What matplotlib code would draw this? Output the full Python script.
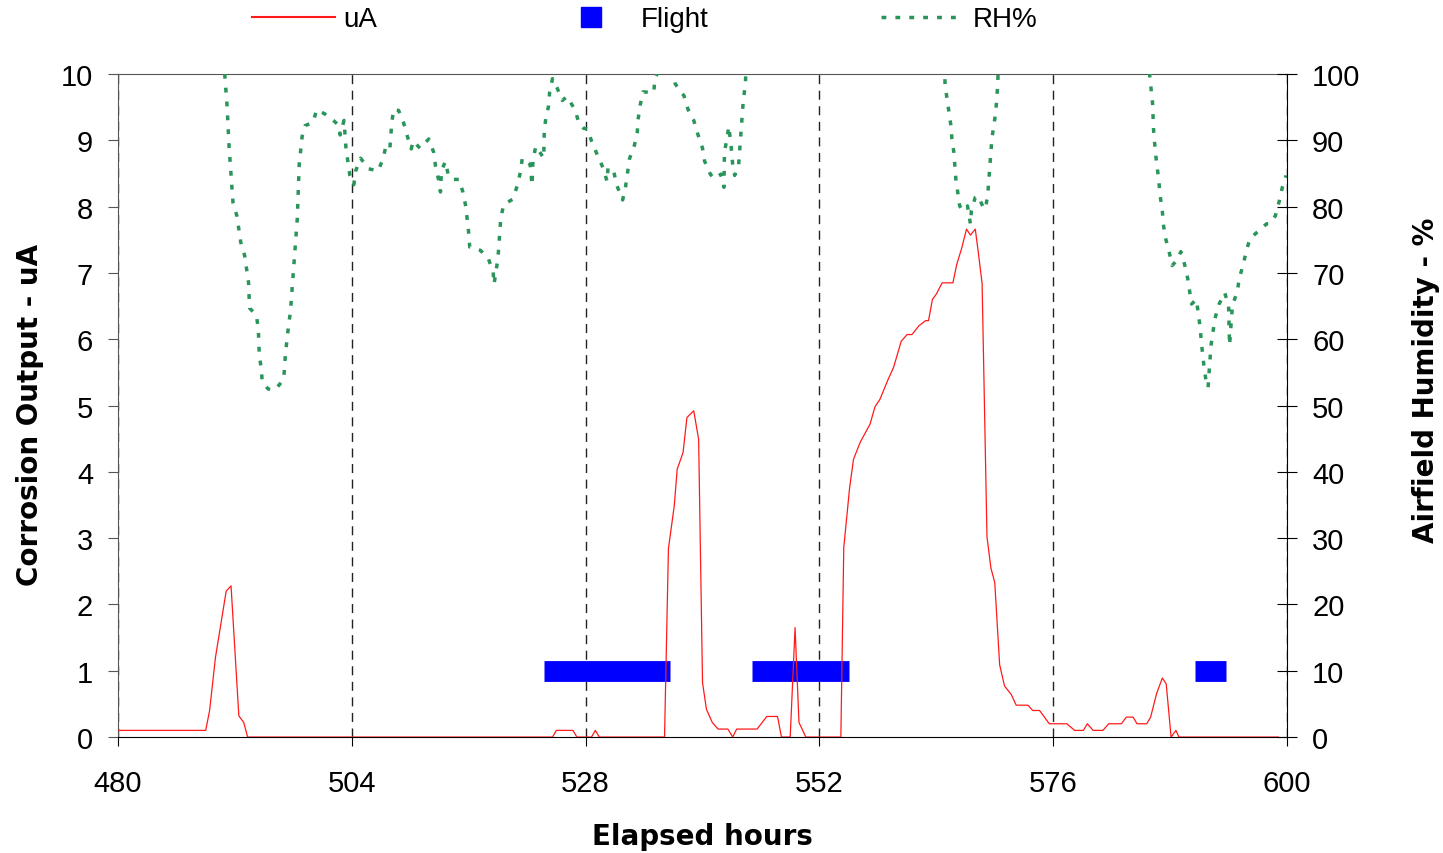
import matplotlib.pyplot as plt
from matplotlib.lines import Line2D

# corrosion sensor output (uA) vs elapsed hours
ua_hours = [480.0, 489.0, 489.4, 490.0, 491.1, 491.6, 492.4, 492.9, 493.3,
            524.6, 525.0, 526.7, 527.1, 528.6, 529.0, 529.4,
            536.1, 536.5, 537.1, 537.4, 538.0, 538.4, 539.1, 539.6, 540.0, 540.4,
            541.0, 541.6, 542.6, 543.1, 543.5, 545.6, 546.6, 547.7, 548.1, 549.0,
            549.5, 549.9, 550.6,
            554.2, 554.5, 555.1, 555.5, 556.2, 557.2, 557.7, 558.2, 559.1, 559.6,
            560.4, 561.0, 561.5, 562.2, 562.9, 563.2, 563.6, 564.0, 564.6, 565.7,
            566.1, 566.6, 567.1, 567.5, 568.0, 568.3, 568.7, 569.2, 569.6, 570.0,
            570.5, 571.0, 571.7, 572.2, 573.4, 573.9, 574.6, 575.6,
            577.4, 578.2, 579.1, 579.5, 580.1, 581.1, 581.7, 583.0, 583.5, 584.2,
            584.6, 585.6, 586.0, 586.6, 587.2, 587.6, 588.1, 588.6, 588.9, 599.1]
ua = [0.1, 0.1, 0.4, 1.2, 2.2, 2.28, 0.32, 0.22, 0.0,
      0.0, 0.1, 0.1, 0.0, 0.0, 0.1, 0.0,
      0.0, 2.84, 3.49, 4.04, 4.29, 4.82, 4.92, 4.49, 0.82, 0.42,
      0.22, 0.12, 0.12, 0.0, 0.12, 0.12, 0.31, 0.31, 0.0, 0.0,
      1.65, 0.22, 0.0,
      0.0, 2.86, 3.76, 4.19, 4.45, 4.72, 4.98, 5.09, 5.41, 5.57,
      5.97, 6.07, 6.07, 6.20, 6.28, 6.28, 6.60, 6.68, 6.85, 6.85,
      7.13, 7.37, 7.66, 7.57, 7.66, 7.32, 6.84, 3.02, 2.55, 2.33,
      1.09, 0.77, 0.64, 0.48, 0.48, 0.40, 0.40, 0.20,
      0.20, 0.10, 0.10, 0.20, 0.10, 0.10, 0.20, 0.20, 0.30, 0.30,
      0.20, 0.20, 0.30, 0.65, 0.89, 0.80, 0.0, 0.1, 0.0, 0.0]

# flight periods (plotted at level 1 on the uA axis)
flight_start = [523.7, 545.1, 590.6]
flight_end = [536.7, 555.0, 593.7]
flight_level = 1

# airfield relative humidity (%), values above 100 run off the chart
rh_hours = [480.0, 490.8, 491.0, 491.2, 491.4, 491.5, 491.6, 491.7, 491.8, 492.2,
            492.4, 492.6, 493.0, 493.2, 493.4, 493.5, 494.2, 494.4, 494.5, 494.7,
            494.8, 495.4, 495.9, 496.3, 497.0, 497.2, 497.5, 497.7, 497.8, 497.9,
            498.1, 498.3, 498.4, 498.6, 498.9, 499.2, 500.0, 500.4, 501.2, 502.1,
            502.7, 502.8, 503.2, 503.4, 503.6, 503.8, 504.2, 504.4, 504.9, 505.7,
            506.7, 507.2, 507.5, 507.9, 508.1, 508.3, 508.8, 509.3, 509.7, 510.1,
            510.3, 511.0, 511.9, 512.4, 512.6, 512.9, 513.1, 513.2, 513.6, 513.9,
            514.3, 515.0, 515.4, 515.7, 516.0, 516.1, 517.2, 518.0, 518.5, 518.6,
            519.0, 519.1, 519.2, 519.3, 519.6, 520.5, 521.0, 521.3, 521.5, 522.3,
            522.5, 522.6, 522.9, 523.7, 523.75, 523.9, 524.2, 524.3, 524.6, 525.1,
            525.6, 526.1, 526.9, 527.3, 527.8, 528.2, 528.6, 529.2, 529.8, 530.2,
            530.3, 530.9, 531.2, 531.8, 532.1, 532.3, 532.5, 533.0, 533.3, 533.4,
            533.6, 533.9, 535.0, 535.1, 536.0, 536.9, 537.2, 538.1, 538.5, 539.1,
            539.5, 540.0, 540.2, 540.8, 541.2, 541.9, 542.2, 542.25, 542.5, 542.7,
            543.0, 543.1, 543.3, 543.7, 543.9, 544.1, 544.2, 544.4, 544.5,
            564.8, 564.9, 565.1, 565.3, 565.5, 565.6, 565.8, 565.9, 566.0, 566.2,
            566.4, 566.7, 567.2, 567.5, 567.6, 568.0, 568.3, 568.9, 569.1, 569.3,
            569.4, 569.5, 569.7, 569.9, 570.1, 570.2, 570.3, 570.4,
            585.8, 585.9, 586.2, 586.3, 586.5, 586.8, 587.0, 587.2, 587.3, 587.5,
            587.9, 588.2, 588.7, 589.1, 589.5, 589.8, 590.0, 590.2, 590.7, 590.9,
            591.1, 591.2, 591.5, 591.7, 591.9, 592.0, 592.1, 592.2, 592.4, 592.6,
            593.0, 593.6, 594.0, 594.1, 594.4, 594.9, 595.1, 595.5, 595.8, 596.2,
            597.3, 597.9, 598.2, 598.8, 599.2, 599.5, 599.9]
rh = [103, 103, 99.0, 95.0, 89.0, 86.9, 84.7, 82.7, 80.6, 78.6,
      76.6, 74.6, 72.6, 70.6, 68.5, 64.7, 63.6, 61.6, 57.6, 55.6,
      53.6, 52.5, 52.3, 52.7, 53.9, 58.0, 62.0, 64.2, 66.2, 68.2,
      72.2, 76.2, 78.2, 86.4, 90.6, 92.2, 92.7, 94.6, 94.0, 93.0,
      92.2, 90.8, 93.0, 88.8, 86.8, 84.7, 83.3, 85.4, 87.3, 85.7,
      85.4, 87.2, 89.1, 88.7, 92.7, 94.7, 94.5, 92.7, 90.6, 88.7,
      89.9, 88.8, 90.2, 88.2, 86.0, 84.1, 82.2, 85.4, 86.8, 84.8,
      84.1, 84.1, 82.2, 80.0, 76.0, 73.9, 73.4, 72.2, 70.2, 68.3,
      72.2, 74.4, 76.4, 78.4, 80.3, 81.1, 83.2, 85.2, 87.3, 86.4,
      83.2, 87.2, 89.1, 87.3, 91.2, 93.2, 95.2, 97.2, 99.3, 97.8,
      96.0, 96.6, 94.6, 92.7, 91.8, 91.7, 89.9, 87.8, 85.8, 83.8,
      85.9, 85.2, 83.2, 81.0, 83.0, 85.1, 87.2, 89.2, 91.2, 93.3,
      95.3, 97.3, 97.2, 99.3, 102, 100.0, 98.5, 96.7, 94.7, 93.0,
      91.0, 88.8, 86.9, 84.9, 84.2, 84.9, 82.9, 88.2, 90.2, 92.1,
      88.2, 86.2, 84.7, 86.2, 90.2, 94.4, 96.3, 98.3, 103,
      103, 98.3, 96.3, 94.2, 92.2, 90.2, 88.2, 86.2, 84.2, 82.2,
      80.1, 79.4, 80.1, 77.4, 79.4, 81.4, 81.6, 79.6, 80.1, 82.2,
      84.2, 86.2, 90.2, 92.2, 94.2, 96.3, 98.3, 103,
      103, 99.8, 95.6, 91.6, 88.0, 84.4, 81.4, 79.4, 77.4, 75.4,
      73.2, 71.1, 71.9, 73.2, 71.2, 69.2, 67.2, 65.3, 66.0, 63.8,
      61.6, 59.6, 55.6, 53.6, 52.7, 55.0, 57.0, 59.1, 61.1, 63.1,
      65.2, 67.0, 65.2, 59.1, 65.1, 67.2, 69.2, 71.2, 73.2, 75.2,
      76.6, 77.4, 77.4, 78.6, 80.8, 82.8, 84.7]

x_ticks = [480, 504, 528, 552, 576, 600]
ua_ticks = list(range(0, 11))
rh_ticks = list(range(0, 101, 10))

RED = '#ff1a1a'
BLUE = '#0000ff'
GREEN = '#2a955a'
DOTS = (0, (1.4, 2.6))

plt.rcParams['font.family'] = ['Liberation Sans', 'DejaVu Sans']

fig = plt.figure(figsize=(14.43, 8.54), dpi=100)
ax = fig.add_axes([0.0818, 0.1358, 0.8101, 0.7764])
ax2 = ax.twinx()

# flights and corrosion output
ax.hlines([flight_level] * len(flight_start), flight_start, flight_end,
          colors=BLUE, linewidth=15, capstyle='butt', zorder=2)
ax.plot(ua_hours, ua, color=RED, lw=0.9, zorder=3)

ax.set_xlim(480, 600)
ax.set_ylim(0, 10)
ax.set_xticks(x_ticks)
ax.set_yticks(ua_ticks)
ax.xaxis.grid(True, color='#222222', lw=1.0, linestyle=(0, (6.5, 4.7)))

# humidity on the right axis
ax2.plot(rh_hours, rh, color=GREEN, lw=2.5, linestyle=DOTS)
ax2.set_ylim(0, 100)
ax2.set_yticks(rh_ticks)

for side in ['left', 'top']:
    ax.spines[side].set_color('#555555')
ax.spines['bottom'].set_color('black')
ax.spines['right'].set_visible(False)
for side in ['left', 'top', 'bottom']:
    ax2.spines[side].set_visible(False)
ax2.spines['right'].set_color('black')

ax.tick_params(axis='y', direction='out', length=7.2, color='#555555',
               labelsize=21, pad=10.8)
ax.tick_params(axis='x', direction='out', length=6.5, labelsize=21, pad=16.5)
ax2.tick_params(axis='y', direction='inout', length=14.4, labelsize=21, pad=10.8)

label_font = dict(family='DejaVu Sans', fontsize=20, fontweight='bold')
ax.set_xlabel('Elapsed hours', **label_font)
ax.xaxis.set_label_coords(0.5, -0.128)
ax.set_ylabel('Corrosion Output - uA', **label_font)
ax.yaxis.set_label_coords(-0.063, 0.487)
ax2.set_ylabel('Airfield Humidity - %', **label_font)
ax2.yaxis.set_label_coords(1.107, 0.54)

handles = [Line2D([], [], color=RED, lw=1.5),
           Line2D([], [], color=BLUE, marker='s', ls='None', markersize=15),
           Line2D([], [], color=GREEN, lw=2.5, linestyle=DOTS)]
fig.legend(handles, ['uA', 'Flight', 'RH%'], loc='center',
           bbox_to_anchor=(0.4467, 0.976), ncol=3, frameon=False, fontsize=20,
           handlelength=3.0, handletextpad=0.29, columnspacing=6.2)

fig.savefig('out.png', dpi=100)
